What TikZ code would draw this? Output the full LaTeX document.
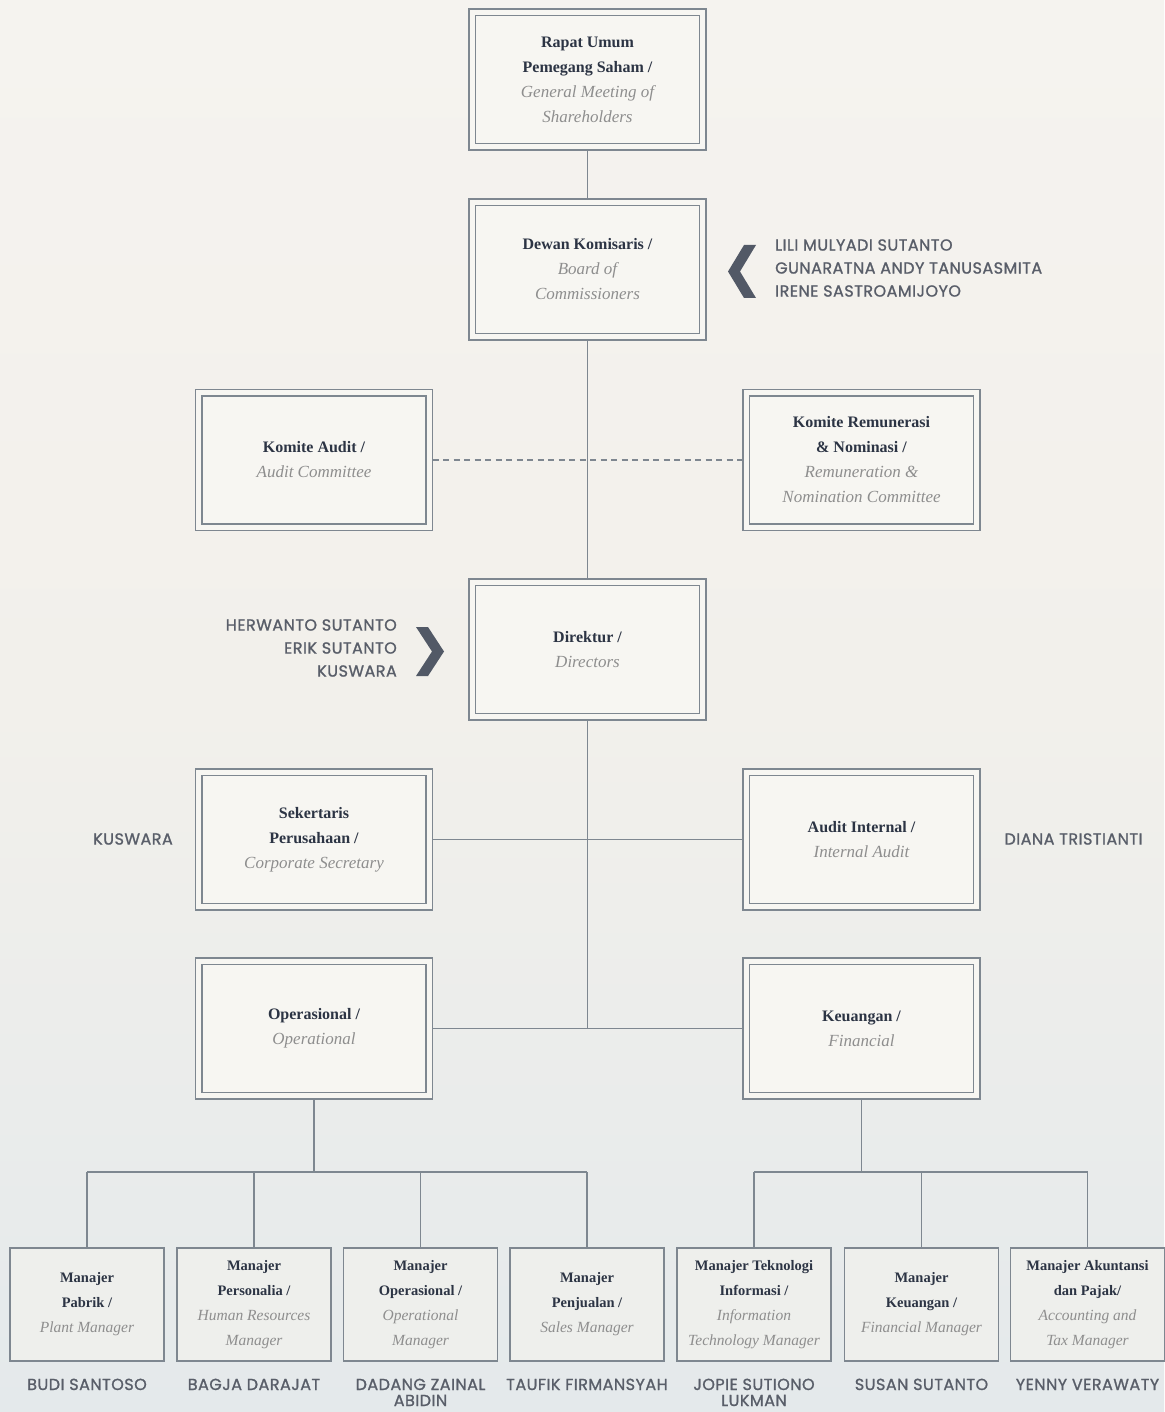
\documentclass[tikz,border=0pt]{standalone}
\usepackage{fontspec}
\setmainfont{Liberation Serif}
\newfontfamily\namefont{Poppins}[FakeBold=1.2, LetterSpace=3]
\definecolor{bgtop}{HTML}{F5F3EF}
\definecolor{bgmid}{HTML}{F2F0EB}
\definecolor{bgbot}{HTML}{E4E9EB}
\definecolor{lc}{HTML}{7E8790}
\definecolor{dk}{HTML}{2C3444}
\definecolor{itc}{HTML}{8E8E8E}
\definecolor{nc}{HTML}{595E69}
\definecolor{chev}{HTML}{525966}
\definecolor{boxfill}{HTML}{F7F6F2}
\definecolor{sboxfill}{HTML}{EEEFEC}
\newcommand\boxb[1]{{\bfseries\color{dk}#1}}
\newcommand\boxi[1]{{\itshape\color{itc}\fontsize{17}{25}\selectfont #1}}
\newcommand\sboxb[1]{{\bfseries\color{dk}#1}}
\newcommand\sboxi[1]{{\itshape\color{itc}\fontsize{15.5}{25}\selectfont #1}}
\begin{document}
\begin{tikzpicture}[x=1pt,y=-1pt,
  bigbox/.style={draw=lc, line width=1.8pt, fill=boxfill, minimum width=237pt, minimum height=141pt,
    inner sep=0pt, outer sep=0pt, align=center, font=\fontsize{16}{25}\selectfont},
  smallbox/.style={draw=lc, line width=1.6pt, fill=sboxfill, minimum width=154pt, minimum height=113pt,
    inner sep=0pt, outer sep=0pt, align=center, font=\fontsize{14.5}{25}\selectfont},
  innerline/.style={draw=lc, line width=1.2pt},
  conn/.style={draw=lc, line width=1.3pt},
  names/.style={font=\namefont\fontsize{16}{23}\selectfont, text=nc, inner sep=0pt},
  names2/.style={names, font=\namefont\fontsize{16}{16}\selectfont},
  chevron/.style={fill=chev, draw=none}
]
% background
\shade[top color=bgtop, bottom color=bgbot, middle color=bgmid] (0,0) rectangle (1164,1412);
\useasboundingbox (0,0) rectangle (1164,1412);

% main boxes
\node[bigbox] (gms) at (587.5,79.5) {\boxb{Rapat Umum}\\\boxb{Pemegang Saham /}\\\boxi{General Meeting of}\\\boxi{Shareholders}};
\node[bigbox] (boc) at (587.5,269.5) {\boxb{Dewan Komisaris /}\\\boxi{Board of}\\\boxi{Commissioners}};
\node[bigbox] (ac) at (314,460) {\boxb{Komite Audit /}\\\boxi{Audit Committee}};
\node[bigbox] (rem) at (861.5,460) {\boxb{Komite Remunerasi}\\\boxb{\& Nominasi /}\\\boxi{Remuneration \&}\\\boxi{Nomination Committee}};
\node[bigbox] (dir) at (587.5,649.5) {\boxb{Direktur /}\\\boxi{Directors}};
\node[bigbox] (cs) at (314,839.5) {\boxb{Sekertaris}\\\boxb{Perusahaan /}\\\boxi{Corporate Secretary}};
\node[bigbox] (ia) at (861.5,839.5) {\boxb{Audit Internal /}\\\boxi{Internal Audit}};
\node[bigbox] (op) at (314,1028.5) {\boxb{Operasional /}\\\boxi{Operational}};
\node[bigbox] (fin) at (861.5,1028.5) {\boxb{Keuangan /}\\\boxi{Financial}};

\foreach \n in {gms,boc,ac,rem,dir,cs,ia,op,fin}
  \draw[innerline] ([shift={(6.5,6.5)}]\n.north west) rectangle ([shift={(-6.5,-6.5)}]\n.south east);

% manager boxes
\node[smallbox] (m1) at (87,1304.5) {\sboxb{Manajer}\\\sboxb{Pabrik /}\\\sboxi{Plant Manager}};
\node[smallbox] (m2) at (254,1304.5) {\sboxb{Manajer}\\\sboxb{Personalia /}\\\sboxi{Human Resources}\\\sboxi{Manager}};
\node[smallbox] (m3) at (420.5,1304.5) {\sboxb{Manajer}\\\sboxb{Operasional /}\\\sboxi{Operational}\\\sboxi{Manager}};
\node[smallbox] (m4) at (587,1304.5) {\sboxb{Manajer}\\\sboxb{Penjualan /}\\\sboxi{Sales Manager}};
\node[smallbox] (m5) at (754,1304.5) {\sboxb{Manajer Teknologi}\\\sboxb{Informasi /}\\\sboxi{Information}\\\sboxi{Technology Manager}};
\node[smallbox] (m6) at (921.5,1304.5) {\sboxb{Manajer}\\\sboxb{Keuangan /}\\\sboxi{Financial Manager}};
\node[smallbox] (m7) at (1087.5,1304.5) {\sboxb{Manajer Akuntansi}\\\sboxb{dan Pajak/}\\\sboxi{Accounting and}\\\sboxi{Tax Manager}};

% connectors
\draw[conn] (gms.south) -- (boc.north);
\draw[conn] (boc.south) -- (dir.north);
\draw[conn] (dir.south) -- (dir.south |- op.east);
\draw[conn, dash pattern=on 6pt off 4.5pt] (ac.east) -- (rem.west);
\draw[conn] (cs.east) -- (ia.west);
\draw[conn] (op.east) -- (fin.west);

\coordinate (obus) at (314,1172);
\coordinate (fbus) at (861.5,1172);
\draw[conn] (op.south) -- (obus);
\draw[conn] (fin.south) -- (fbus);
\draw[conn] (m1.north |- obus) -- (m4.north |- obus);
\draw[conn] (m5.north |- fbus) -- (m7.north |- fbus);
\foreach \m in {m1,m2,m3,m4} \draw[conn] (\m.north |- obus) -- (\m.north);
\foreach \m in {m5,m6,m7} \draw[conn] (\m.north |- fbus) -- (\m.north);

% chevrons
\fill[chevron] (728,271.5) -- (744,245) -- (756,245) -- (740,271.5) -- (756,298) -- (744,298) -- cycle;
\fill[chevron] (444,651.5) -- (428,627) -- (416,627) -- (432,651.5) -- (416,676) -- (428,676) -- cycle;

% names
\node[names, anchor=west, align=left] (bocnames) at (775,268) {LILI MULYADI SUTANTO\\GUNARATNA ANDY TANUSASMITA\\IRENE SASTROAMIJOYO};
\node[names, anchor=east, align=right] (dirnames) at (397,648) {HERWANTO SUTANTO\\ERIK SUTANTO\\KUSWARA};
\node[names] (csname) at (133,839) {KUSWARA};
\node[names] (ianame) at (1073.5,839) {DIANA TRISTIANTI};

\node[names, anchor=base] (n1) at (87,1390) {BUDI SANTOSO};
\node[names, anchor=base] (n2) at (254,1390) {BAGJA DARAJAT};
\node[names2, anchor=base, align=center] (n3) at (420.5,1406) {DADANG ZAINAL\\ABIDIN};
\node[names, anchor=base] (n4) at (587,1390) {TAUFIK FIRMANSYAH};
\node[names2, anchor=base, align=center] (n5) at (754,1406) {JOPIE SUTIONO\\LUKMAN};
\node[names, anchor=base] (n6) at (921.5,1390) {SUSAN SUTANTO};
\node[names, anchor=base] (n7) at (1087.5,1390) {YENNY VERAWATY};
\end{tikzpicture}
\end{document}
